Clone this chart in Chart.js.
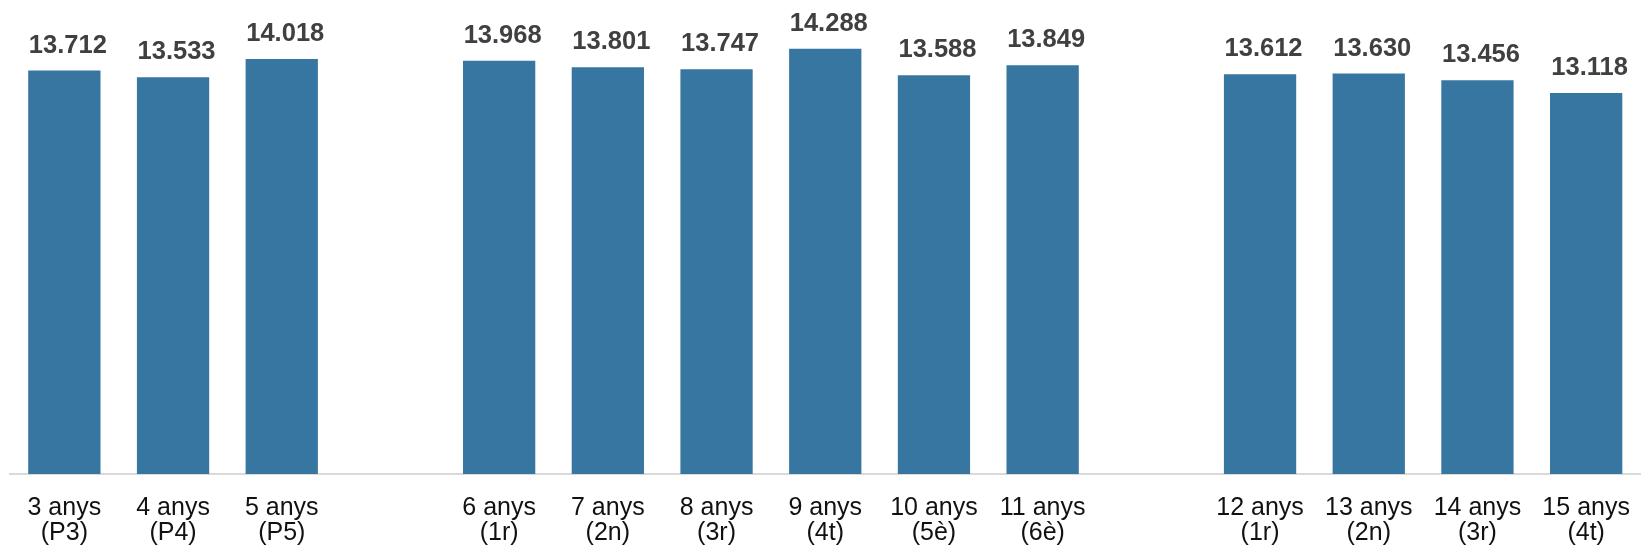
<!DOCTYPE html>
<html>
<head>
<meta charset="utf-8">
<script src="https://cdn.jsdelivr.net/npm/chart.js@4.4.1/dist/chart.umd.min.js"></script>
<style>
  html, body { margin: 0; padding: 0; background: #ffffff; }
  #wrap { width: 1652px; height: 552px; position: relative; }
</style>
</head>
<body>
<div id="wrap"><canvas id="c"></canvas></div>
<script>
// Categories (empty entries are the gaps between school stages)
const ageLabels    = ['3 anys', '4 anys', '5 anys', '', '6 anys', '7 anys', '8 anys', '9 anys', '10 anys', '11 anys', '', '12 anys', '13 anys', '14 anys', '15 anys'];
const courseLabels = ['(P3)', '(P4)', '(P5)', '', '(1r)', '(2n)', '(3r)', '(4t)', '(5è)', '(6è)', '', '(1r)', '(2n)', '(3r)', '(4t)'];
// Series values
const students     = [13712, 13533, 14018, null, 13968, 13801, 13747, 14288, 13588, 13849, null, 13612, 13630, 13456, 13118];
// Value axis range
const yMin = 3000;
const yMax = 15000;

const labels = ageLabels.map((a, i) => a ? [a, courseLabels[i]] : '');

function fmt(v) {
  return String(v).replace(/\B(?=(\d{3})+(?!\d))/g, '.');
}

const valueLabels = {
  id: 'valueLabels',
  afterDatasetsDraw(chart) {
    const ctx = chart.ctx;
    const meta = chart.getDatasetMeta(0);
    ctx.save();
    ctx.font = 'bold 25.5px "Liberation Sans", Arial, sans-serif';
    ctx.fillStyle = '#404040';
    ctx.textAlign = 'center';
    ctx.textBaseline = 'alphabetic';
    meta.data.forEach((bar, i) => {
      const v = chart.data.datasets[0].data[i];
      if (v === null || v === undefined) return;
      ctx.fillText(fmt(v), bar.x + 3.5, bar.y - 18);
    });
    ctx.restore();
  }
};

new Chart(document.getElementById('c'), {
  type: 'bar',
  data: {
    labels: labels,
    datasets: [{
      data: students,
      backgroundColor: '#3876a2',
      borderWidth: 0,
      barPercentage: 0.665,
      categoryPercentage: 1.0
    }]
  },
  options: {
    responsive: true,
    maintainAspectRatio: false,
    animation: false,
    layout: { padding: { top: 22, left: 10, right: 2, bottom: 0 } },
    plugins: {
      legend: { display: false },
      tooltip: { enabled: false }
    },
    scales: {
      x: {
        afterFit(scale) { scale.height = 78; },
        grid: { display: false, drawTicks: false },
        border: { display: true, color: '#d9d9d9', width: 2 },
        ticks: {
          color: '#111111',
          font: { family: '"Liberation Sans", Arial, sans-serif', size: 25, lineHeight: 1.0 },
          padding: 22,
          autoSkip: false,
          maxRotation: 0,
          minRotation: 0
        }
      },
      y: {
        display: false,
        min: yMin,
        max: yMax
      }
    }
  },
  plugins: [valueLabels]
});
</script>
</body>
</html>
